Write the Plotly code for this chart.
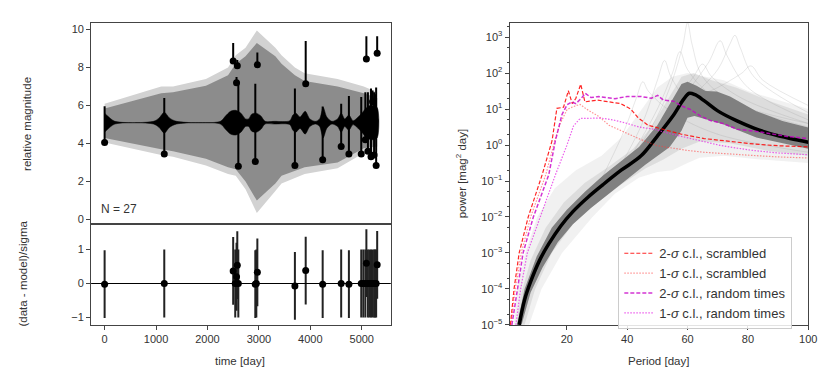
import plotly.graph_objects as go

# ---------------- data: left panels ----------------
times = [0, 1160, 2500, 2540, 2565, 2580, 2600, 2930, 2950, 2970, 3700, 3910, 4240, 4600, 4750,
         4990, 5030, 5070, 5090, 5120, 5150, 5180, 5210, 5240, 5260, 5280, 5300]
mags = [4.06, 3.45, 8.35, 5.2, 7.2, 8.1, 2.8, 3.05, 5.1, 8.15, 2.85, 7.15, 3.15, 3.85, 3.45,
        3.45, 5.1, 4.2, 8.45, 3.6, 5.0, 3.3, 6.2, 3.4, 5.2, 2.85, 8.75]
err_hi = [1.9, 2.95, 0.95, 0.3, 0.3, 0.3, 4.4, 4.1, 0.3, 0.65, 4.05, 2.25, 2.8, 2.25, 3.05,
          3.0, 0.5, 2.5, 1.2, 3.1, 1.0, 3.6, 0.6, 3.3, 1.4, 4.1, 0.9]
err_lo = [0.0] * 27
resid = [-0.02, 0.0, 0.37, 0.0, 0.2, 0.54, 0.0, -0.02, 0.0, 0.33, -0.07, 0.38, -0.02, 0.0, -0.02,
         0.0, 0.0, 0.0, 0.6, 0.0, 0.0, 0.0, 0.0, 0.0, 0.0, 0.0, 0.55]
resid_err = [1.0] * 27

gray_t = [0, 1100, 1330, 1970, 2400, 2550, 2740, 2960, 3320, 3440, 3700, 3890, 4530, 5040, 5300]
gray_hi = [6.1, 7.0, 7.0, 7.4, 8.0, 8.65, 9.05, 9.95, 9.05, 8.65, 8.0, 7.7, 7.4, 7.0, 6.7]
gray_lo = [4.05, 3.4, 3.3, 2.85, 2.4, 2.3, 1.6, 0.35, 1.5, 1.9, 2.2, 2.4, 2.7, 3.5, 3.6]
gray_in_hi = [5.85, 6.65, 6.7, 7.05, 7.6, 8.2, 8.6, 9.3, 8.6, 8.2, 7.6, 7.3, 7.0, 6.65, 6.4]
gray_in_lo = [4.3, 3.7, 3.6, 3.2, 2.75, 2.65, 2.0, 1.0, 1.9, 2.3, 2.55, 2.75, 3.0, 3.75, 3.85]

black_t = [0, 60, 200, 950, 1060, 1160, 1260, 1400, 2250, 2350, 2450, 2550, 2650, 2740, 2800,
           2860, 2950, 3040, 3120, 3300, 3600, 3660, 3720, 3800, 3900, 3990, 4100, 4180, 4250,
           4320, 4420, 4530, 4600, 4670, 4750, 4830, 4930, 5000, 5100, 5200, 5300]
black_hi = [5.6, 5.45, 5.17, 5.17, 5.35, 5.65, 5.35, 5.17, 5.17, 5.45, 5.7, 5.75, 5.6, 5.3, 5.3,
            5.55, 5.6, 5.45, 5.17, 5.17, 5.2, 5.5, 5.6, 5.4, 5.7, 5.3, 5.17, 5.3, 5.9,
            5.4, 5.17, 5.3, 5.6, 5.3, 5.5, 5.2, 5.4, 5.6, 5.9, 6.0, 5.9]
black_lo = [4.6, 4.75, 5.03, 5.03, 4.85, 4.55, 4.85, 5.03, 5.03, 4.75, 4.5, 4.45, 4.6, 4.9, 4.9,
            4.65, 4.6, 4.75, 5.03, 5.03, 5.0, 4.7, 4.6, 4.8, 4.5, 4.9, 5.03, 4.9, 4.3,
            4.8, 5.03, 4.9, 4.6, 4.9, 4.7, 5.0, 4.8, 4.6, 4.3, 4.2, 4.3]

# ---------------- data: right panel (log10 power) ----------------
med_p = [4.2, 6, 8, 11, 14, 18, 22, 27, 32, 38, 44.6, 50, 55.5, 58.5, 60.6, 62.5, 65.7, 70, 76.4,
         82, 87.7, 94, 100]
med_lg = [-5, -4.3, -3.8, -3.2, -2.75, -2.25, -1.85, -1.45, -1.1, -0.7, -0.3, 0.25, 0.85, 1.25,
          1.44, 1.4, 1.22, 0.95, 0.67, 0.47, 0.31, 0.18, 0.08]

band_up_p = [3.5, 6, 10, 15, 20, 26, 32, 38, 44, 50, 55.4, 58, 60, 63, 66, 69.7, 74.1, 82.8, 91.5, 100]
band_up_lg = [-5, -4.0, -3.1, -2.3, -1.8, -1.3, -0.85, -0.45, -0.05, 0.55, 1.3, 1.7, 1.76, 1.65,
              1.5, 1.49, 1.35, 0.94, 0.67, 0.49]
band_lo_p = [5, 8, 12, 17, 22, 28, 34, 40, 46, 50, 54, 58, 60, 62.3, 66, 71.8, 82.8, 100]
band_lo_lg = [-5, -4.1, -3.4, -2.7, -2.2, -1.75, -1.35, -0.95, -0.55, -0.3, -0.06, 0.4, 0.76,
              0.81, 0.72, 0.58, 0.21, -0.1]

spread_up_p = [2.5, 3.6, 6.2, 10.2, 16, 23, 31.5, 38, 44, 50, 55, 60, 66, 72, 80, 90, 100]
spread_up_lg = [-5, -4, -3, -2, -1.2, -0.7, -0.3, 0.2, 0.9, 1.6, 1.9, 2.0, 1.9, 1.8, 1.5, 1.25, 1.0]
spread_lo_p = [7.5, 11.6, 18.4, 28.5, 36, 44, 50, 55, 60, 64, 72, 84, 100]
spread_lo_lg = [-5, -4, -3, -2, -1.35, -0.9, -0.75, -0.7, -0.5, -0.35, -0.3, -0.4, -0.5]

mid_up_p = [3.2, 5, 8, 13, 19, 26, 34, 42, 48, 53, 58, 62, 68, 76, 88, 100]
mid_up_lg = [-5, -4.1, -3.2, -2.3, -1.6, -1.05, -0.6, -0.1, 0.5, 1.2, 1.9, 2.0, 1.8, 1.6, 1.2, 0.85]
mid_lo_p = [6, 9.5, 15, 22, 30, 38, 46, 52, 58, 64, 74, 86, 100]
mid_lo_lg = [-5, -4, -3, -2.2, -1.6, -1.1, -0.65, -0.4, -0.1, 0.1, 0.05, -0.15, -0.3]

spike_p = [
    [40, 50, 55, 58.5, 60, 61.5, 65, 75, 100],
    [45, 60, 70, 74, 75.7, 77.5, 82, 100],
    [45, 60, 67, 70.8, 73, 80, 100],
    [30, 39, 43, 45.2, 47, 55, 70, 100],
    [35, 45, 50, 52.4, 54.5, 62, 100],
    [40, 50, 55, 57.5, 60, 68, 100],
    [45, 55, 62, 65, 68, 78, 100],
    [48, 60, 70, 78, 81, 85, 100],
]
spike_lg = [
    [-0.6, 0.8, 1.8, 2.8, 3.4, 2.8, 1.9, 1.2, 0.5],
    [-0.3, 1.2, 2.1, 2.8, 3.05, 2.7, 1.9, 0.9],
    [0, 1.5, 2.3, 2.9, 2.5, 1.6, 0.7],
    [-1.2, 0.4, 1.3, 1.76, 1.5, 0.9, 0.3, -0.2],
    [-1, 0.6, 1.8, 2.35, 1.9, 1.1, 0.2],
    [-0.5, 1.0, 2.0, 2.6, 2.1, 1.4, 0.6],
    [-0.2, 1.1, 1.9, 2.25, 1.9, 1.3, 0.6],
    [0, 1.2, 1.6, 2.0, 2.2, 1.8, 1.1],
]

scr2_p = [1.3, 2.5, 4.2, 7.2, 11.8, 15.1, 16.7, 18.9, 20.5, 21.8, 23, 24.6, 26, 30, 34, 37.9, 41.2,
          43.6, 46.9, 51.2, 58, 65.5, 74, 81.9, 90, 100]
scr2_lg = [-5, -4, -3, -2, -0.83, 0.12, 1.02, 1.05, 1.51, 1.15, 1.3, 1.69, 1.2, 1.25, 1.2, 1.15,
           1.0, 0.76, 0.55, 0.45, 0.3, 0.18, 0.1, 0.03, -0.02, -0.05]
scr1_p = [1.5, 2.9, 4.9, 8.0, 13, 16, 17.8, 20.1, 22.5, 24.4, 26.5, 30.5, 34, 38, 44.6, 50, 54.4,
          60, 65.3, 73, 81.7, 90, 100]
scr1_lg = [-5, -4, -3, -2, -0.83, 0.12, 0.6, 0.99, 1.08, 1.13, 1.0, 0.8, 0.55, 0.4, 0.15, -0.02,
           -0.08, -0.15, -0.2, -0.25, -0.29, -0.33, -0.36]
rnd2_p = [1.8, 3.6, 5.5, 8.9, 14, 16.2, 18.4, 20.1, 21.6, 23, 24.8, 26.1, 28, 30.5, 33, 35.9, 40,
          44.6, 48, 50.1, 52, 55.4, 57.7, 60.9, 64.2, 67.6, 71.8, 76.4, 82.8, 87.3, 93, 100]
rnd2_lg = [-5, -4, -3, -2, -0.83, 0.12, 0.85, 1.12, 1.2, 1.15, 1.3, 1.44, 1.32, 1.35, 1.33, 1.29,
           1.35, 1.35, 1.3, 1.38, 1.25, 1.22, 1.1, 0.99, 0.81, 0.68, 0.6, 0.44, 0.38, 0.31, 0.24, 0.18]
rnd1_p = [3.1, 4.7, 6.9, 11.2, 16.2, 20, 22.2, 24.4, 28, 31.3, 35.2, 39.2, 44, 48.9, 54, 59.9, 65,
          70.8, 76, 81.7, 90, 100]
rnd1_lg = [-5, -4, -3, -2, -0.83, -0.01, 0.53, 0.74, 0.74, 0.75, 0.7, 0.62, 0.5, 0.44, 0.32, 0.21,
           0.1, -0.01, -0.08, -0.15, -0.22, -0.27]

legend_names = ["2-<i>σ</i> c.l., scrambled", "1-<i>σ</i> c.l., scrambled",
                "2-<i>σ</i> c.l., random times", "1-<i>σ</i> c.l., random times"]
mag_ticks = [0, 2, 4, 6, 8, 10]
res_ticks = [-1, 0, 1]
res_ticktext = ["−1", "0", "1"]
time_ticks = [0, 1000, 2000, 3000, 4000, 5000]
period_ticks = [20, 40, 60, 80, 100]
pow_exps = [-5, -4, -3, -2, -1, 0, 1, 2, 3]


def pw(lst):
    return [10 ** v for v in lst]


FONT = "Liberation Sans, Arial, sans-serif"
TXT = "#333333"
AX = "#444444"
W, H = 831, 377


def px_x(x):
    return x / W


def px_y(y):
    return (H - y) / H


fig = go.Figure()

# ---- top-left: model envelopes ----
fig.add_trace(go.Scatter(x=gray_t + gray_t[::-1], y=gray_hi + gray_lo[::-1], fill="toself",
                         fillcolor="#d2d2d2", line=dict(width=0), mode="lines",
                         showlegend=False, hoverinfo="skip", xaxis="x", yaxis="y"))
fig.add_trace(go.Scatter(x=gray_t + gray_t[::-1], y=gray_in_hi + gray_in_lo[::-1], fill="toself",
                         fillcolor="#8c8c8c", line=dict(width=0), mode="lines",
                         showlegend=False, hoverinfo="skip", xaxis="x", yaxis="y"))
fig.add_trace(go.Scatter(x=black_t + black_t[::-1], y=black_hi + black_lo[::-1], fill="toself",
                         fillcolor="black", line=dict(width=0.5, color="black", shape="spline",
                                                      smoothing=0.8),
                         mode="lines", showlegend=False, hoverinfo="skip", xaxis="x", yaxis="y"))
fig.add_trace(go.Scatter(x=times, y=mags, mode="markers",
                         marker=dict(color="black", size=7),
                         error_y=dict(type="data", symmetric=False, array=err_hi,
                                      arrayminus=err_lo, color="black", thickness=2, width=0),
                         showlegend=False, xaxis="x", yaxis="y"))

# ---- bottom-left: residuals ----
fig.add_trace(go.Scatter(x=times, y=resid, mode="markers",
                         marker=dict(color="black", size=7),
                         error_y=dict(type="data", array=resid_err, color="#222222",
                                      thickness=2, width=0),
                         showlegend=False, xaxis="x2", yaxis="y2"))

# ---- right panel ----
fig.add_trace(go.Scatter(x=spread_up_p + spread_lo_p[::-1],
                         y=pw(spread_up_lg + spread_lo_lg[::-1]), fill="toself",
                         fillcolor="rgba(210,210,210,0.3)", line=dict(width=0),
                         mode="lines", showlegend=False, hoverinfo="skip", xaxis="x3", yaxis="y3"))
fig.add_trace(go.Scatter(x=mid_up_p + mid_lo_p[::-1],
                         y=pw(mid_up_lg + mid_lo_lg[::-1]), fill="toself",
                         fillcolor="rgba(175,175,175,0.3)", line=dict(width=0),
                         mode="lines", showlegend=False, hoverinfo="skip", xaxis="x3", yaxis="y3"))
for sp, sl in zip(spike_p, spike_lg):
    fig.add_trace(go.Scatter(x=sp, y=pw(sl), mode="lines",
                             line=dict(color="rgba(150,150,150,0.28)", width=0.8, shape="spline"),
                             showlegend=False, hoverinfo="skip", xaxis="x3", yaxis="y3"))
fig.add_trace(go.Scatter(x=band_up_p + band_lo_p[::-1], y=pw(band_up_lg + band_lo_lg[::-1]),
                         fill="toself", fillcolor="#808080", line=dict(width=0),
                         mode="lines", showlegend=False, hoverinfo="skip", xaxis="x3", yaxis="y3"))
fig.add_trace(go.Scatter(x=med_p, y=pw(med_lg), mode="lines",
                         line=dict(color="black", width=3.5, shape="spline"),
                         showlegend=False, hoverinfo="skip", xaxis="x3", yaxis="y3"))

cl_series = [
    (scr2_p, scr2_lg, "rgba(255,0,0,0.85)", "4px,2px", 1.2),
    (scr1_p, scr1_lg, "rgba(255,60,60,0.55)", "1.5px,1.5px", 1.2),
    (rnd2_p, rnd2_lg, "rgba(200,0,200,0.8)", "4px,2px", 1.5),
    (rnd1_p, rnd1_lg, "rgba(230,40,230,0.75)", "1.5px,1.5px", 1.2),
]
for (p, lg, col, dash, w), name in zip(cl_series, legend_names):
    fig.add_trace(go.Scatter(x=p, y=pw(lg), mode="lines", name=name,
                             line=dict(color=col, dash=dash, width=w),
                             xaxis="x3", yaxis="y3"))

axis_common = dict(showline=True, mirror=True, linecolor=AX, linewidth=1, showgrid=False,
                   zeroline=False, ticks="outside", ticklen=4, tickcolor=AX,
                   tickfont=dict(family=FONT, size=11, color=TXT))

left_dom = [px_x(84), px_x(387)]
right_dom = [px_x(507), px_x(809)]
top_dom = [px_y(220), px_y(15)]
bot_dom = [px_y(322), px_y(220)]
rgt_ydom = [px_y(322), px_y(15)]

fig.update_layout(
    width=W, height=H, margin=dict(l=0, r=0, t=0, b=0),
    paper_bgcolor="white", plot_bgcolor="white",
    font=dict(family=FONT, size=11, color=TXT),
    xaxis=dict(domain=left_dom, range=[-263, 5565], anchor="y",
               **{**axis_common, "ticks": "", "showticklabels": False}),
    yaxis=dict(domain=top_dom, range=[-0.26, 10.36], anchor="x",
               tickvals=mag_ticks, **axis_common),
    xaxis2=dict(domain=left_dom, range=[-263, 5565], anchor="y2",
                tickvals=time_ticks, **axis_common),
    yaxis2=dict(domain=bot_dom, range=[-1.22, 1.74], anchor="x2",
                tickvals=res_ticks, ticktext=res_ticktext, **axis_common),
    xaxis3=dict(domain=right_dom, range=[1, 100], anchor="y3",
                tickvals=period_ticks, **axis_common),
    yaxis3=dict(domain=rgt_ydom, type="log", range=[-5, 3.4], anchor="x3",
                tickvals=[10 ** e for e in pow_exps],
                ticktext=["10<sup>%s</sup>" % (str(e).replace("-", "−")) for e in pow_exps],
                minor=dict(ticks="outside", ticklen=2, tickcolor=AX, showgrid=False),
                **axis_common),
    legend=dict(x=px_x(617), y=px_y(233), xanchor="left", yanchor="top",
                bgcolor="rgba(255,255,255,0.85)", bordercolor="#cccccc", borderwidth=1,
                font=dict(family=FONT, size=13, color=TXT), itemwidth=30,
                tracegroupgap=0),
    shapes=[dict(type="line", xref="x2 domain", x0=0, x1=1, yref="y2", y0=0, y1=0,
                 line=dict(color="black", width=1.2))],
    annotations=[
        dict(text="N = 27", xref="x domain", x=0.026, yref="y", y=0.55, xanchor="left",
             yanchor="middle", showarrow=False, font=dict(family=FONT, size=12, color=TXT)),
        dict(text="relative magnitude", xref="paper", x=px_x(19), yref="paper",
             y=px_y(118), textangle=-90, showarrow=False, xanchor="center", yanchor="middle",
             font=dict(family=FONT, size=11.5, color=TXT)),
        dict(text="(data - model)/sigma", xref="paper", x=px_x(15), yref="paper",
             y=px_y(270), textangle=-90, showarrow=False, xanchor="center", yanchor="middle",
             font=dict(family=FONT, size=11.5, color=TXT)),
        dict(text="time [day]", xref="paper", x=px_x(235), yref="paper", y=px_y(359),
             showarrow=False, xanchor="center", yanchor="middle",
             font=dict(family=FONT, size=11.5, color=TXT)),
        dict(text="Period [day]", xref="paper", x=px_x(658), yref="paper", y=px_y(359),
             showarrow=False, xanchor="center", yanchor="middle",
             font=dict(family=FONT, size=11.5, color=TXT)),
        dict(text="power [mag<sup>2</sup> day]", xref="paper", x=px_x(458), yref="paper",
             y=px_y(168), textangle=-90, showarrow=False, xanchor="center", yanchor="middle",
             font=dict(family=FONT, size=11.5, color=TXT)),
    ],
)

fig.write_html("out.html")
